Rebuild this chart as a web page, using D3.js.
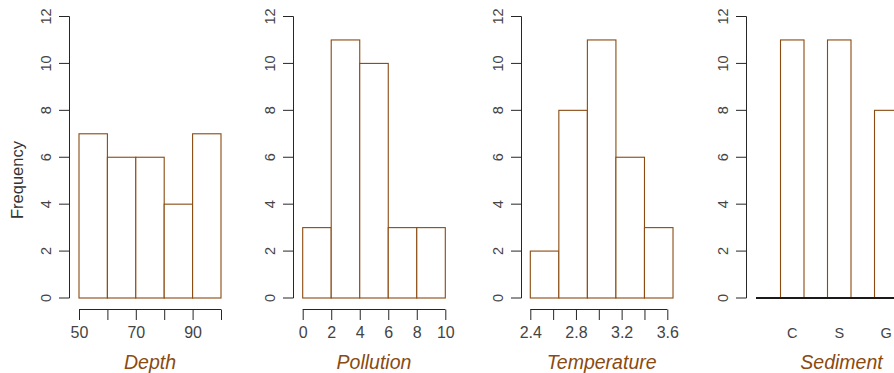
<!DOCTYPE html>
<html>
<head>
<meta charset="utf-8">
<script src="https://cdn.jsdelivr.net/npm/d3@7"></script>
<style>
  html, body { margin: 0; padding: 0; background: #fff; }
  svg { display: block; }
  text { font-family: "Liberation Sans", Arial, sans-serif; }
</style>
</head>
<body>
<svg id="chart" width="894" height="373"></svg>
<script>
// Histogram counts for each environmental variable
const depthBins = [50, 60, 70, 80, 90, 100];
const depthCounts = [7, 6, 6, 4, 7];
const depthTicks = [50, 60, 70, 80, 90, 100];
const depthTickLabels = ["50", "", "70", "", "90", ""];

const pollutionBins = [0, 2, 4, 6, 8, 10];
const pollutionCounts = [3, 11, 10, 3, 3];
const pollutionTicks = [0, 2, 4, 6, 8, 10];
const pollutionTickLabels = ["0", "2", "4", "6", "8", "10"];

const temperatureBins = [2.4, 2.65, 2.9, 3.15, 3.4, 3.65];
const temperatureCounts = [2, 8, 11, 6, 3];
const temperatureTicks = [2.4, 2.6, 2.8, 3.0, 3.2, 3.4, 3.6];
const temperatureTickLabels = ["2.4", "", "2.8", "", "3.2", "", "3.6"];

const sedimentCategories = ["C", "S", "G"];
const sedimentCounts = [11, 11, 8];

const frequencyTicks = [0, 2, 4, 6, 8, 10, 12];
const axisTitles = ["Depth", "Pollution", "Temperature", "Sediment"];

const brown = "#8a4a10";
const axisColor = "#262626";
const labelColor = "#444";

const svg = d3.select("#chart");
const y = d3.scaleLinear().domain([0, 12]).range([298, 16.5]);
const xAxisY = 309.5;

function drawYAxis(ax) {
  const g = svg.append("g").attr("transform", `translate(${ax},0)`);
  g.append("line")
    .attr("x1", 0).attr("x2", 0)
    .attr("y1", y(0)).attr("y2", y(12))
    .attr("stroke", axisColor);
  frequencyTicks.forEach(v => {
    g.append("line")
      .attr("x1", -10.5).attr("x2", 0)
      .attr("y1", y(v)).attr("y2", y(v))
      .attr("stroke", axisColor);
    g.append("text")
      .attr("transform", `translate(-19,${y(v)}) rotate(-90)`)
      .attr("text-anchor", "middle")
      .attr("font-size", 14.5)
      .attr("fill", labelColor)
      .text(v);
  });
}

function drawTitle(cx, label) {
  svg.append("text")
    .attr("x", cx).attr("y", 369)
    .attr("text-anchor", "middle")
    .attr("font-size", 19.5)
    .attr("font-style", "italic")
    .attr("fill", brown)
    .text(label);
}

function drawHistogram(ax, x0, x1, dom, bins, counts, ticks, tickLabels, title) {
  const x = d3.scaleLinear().domain(dom).range([x0, x1]);
  drawYAxis(ax);
  svg.append("g").selectAll("rect")
    .data(counts)
    .join("rect")
    .attr("x", (d, i) => x(bins[i]))
    .attr("width", (d, i) => x(bins[i + 1]) - x(bins[i]))
    .attr("y", d => y(d))
    .attr("height", d => y(0) - y(d))
    .attr("fill", "#fff")
    .attr("stroke", brown)
    .attr("stroke-width", 1.1);

  const axis = d3.axisBottom(x)
    .tickValues(ticks)
    .tickFormat((d, i) => tickLabels[i])
    .tickSizeInner(10.5)
    .tickSizeOuter(0)
    .tickPadding(6.5);
  const g = svg.append("g")
    .attr("transform", `translate(0,${xAxisY})`)
    .call(axis);
  g.select(".domain")
    .attr("stroke", axisColor)
    .attr("d", `M${x(ticks[0])},0H${x(ticks[ticks.length - 1])}`);
  g.selectAll(".tick line").attr("stroke", axisColor);
  g.selectAll(".tick text")
    .attr("font-size", 16)
    .attr("font-family", "Liberation Sans, Arial, sans-serif")
    .attr("fill", labelColor);

  drawTitle((x0 + x(bins[bins.length - 1])) / 2, title);
}

drawHistogram(69.5, 79, 221, [50, 100], depthBins, depthCounts,
  depthTicks, depthTickLabels, axisTitles[0]);
drawHistogram(293.5, 302.7, 445.3, [0, 10], pollutionBins, pollutionCounts,
  pollutionTicks, pollutionTickLabels, axisTitles[1]);
drawHistogram(521.5, 530.3, 667.3, [2.4, 3.6], temperatureBins, temperatureCounts,
  temperatureTicks, temperatureTickLabels, axisTitles[2]);

// Sediment: bar chart of counts per category
const sx = d3.scaleBand()
  .domain(sedimentCategories)
  .range([757, 921.5])
  .paddingInner(0.5)
  .paddingOuter(0.5);

drawYAxis(746.5);
svg.append("g").selectAll("rect")
  .data(sedimentCounts)
  .join("rect")
  .attr("x", (d, i) => sx(sedimentCategories[i]))
  .attr("width", sx.bandwidth())
  .attr("y", d => y(d))
  .attr("height", d => y(0) - y(d))
  .attr("fill", "#fff")
  .attr("stroke", brown)
  .attr("stroke-width", 1.1);

svg.append("line")
  .attr("x1", 756).attr("x2", 930)
  .attr("y1", y(0)).attr("y2", y(0))
  .attr("stroke", "#1a1a1a")
  .attr("stroke-width", 1.8);

svg.append("g").selectAll("text")
  .data(sedimentCategories)
  .join("text")
  .attr("x", d => sx(d) + sx.bandwidth() / 2)
  .attr("y", 338)
  .attr("text-anchor", "middle")
  .attr("font-size", 14.5)
  .attr("fill", labelColor)
  .text(d => d);

drawTitle(841.5, axisTitles[3]);

// Shared y-axis title
svg.append("text")
  .attr("transform", "translate(23,180) rotate(-90)")
  .attr("text-anchor", "middle")
  .attr("font-size", 16.5)
  .attr("fill", "#333")
  .text("Frequency");
</script>
</body>
</html>
